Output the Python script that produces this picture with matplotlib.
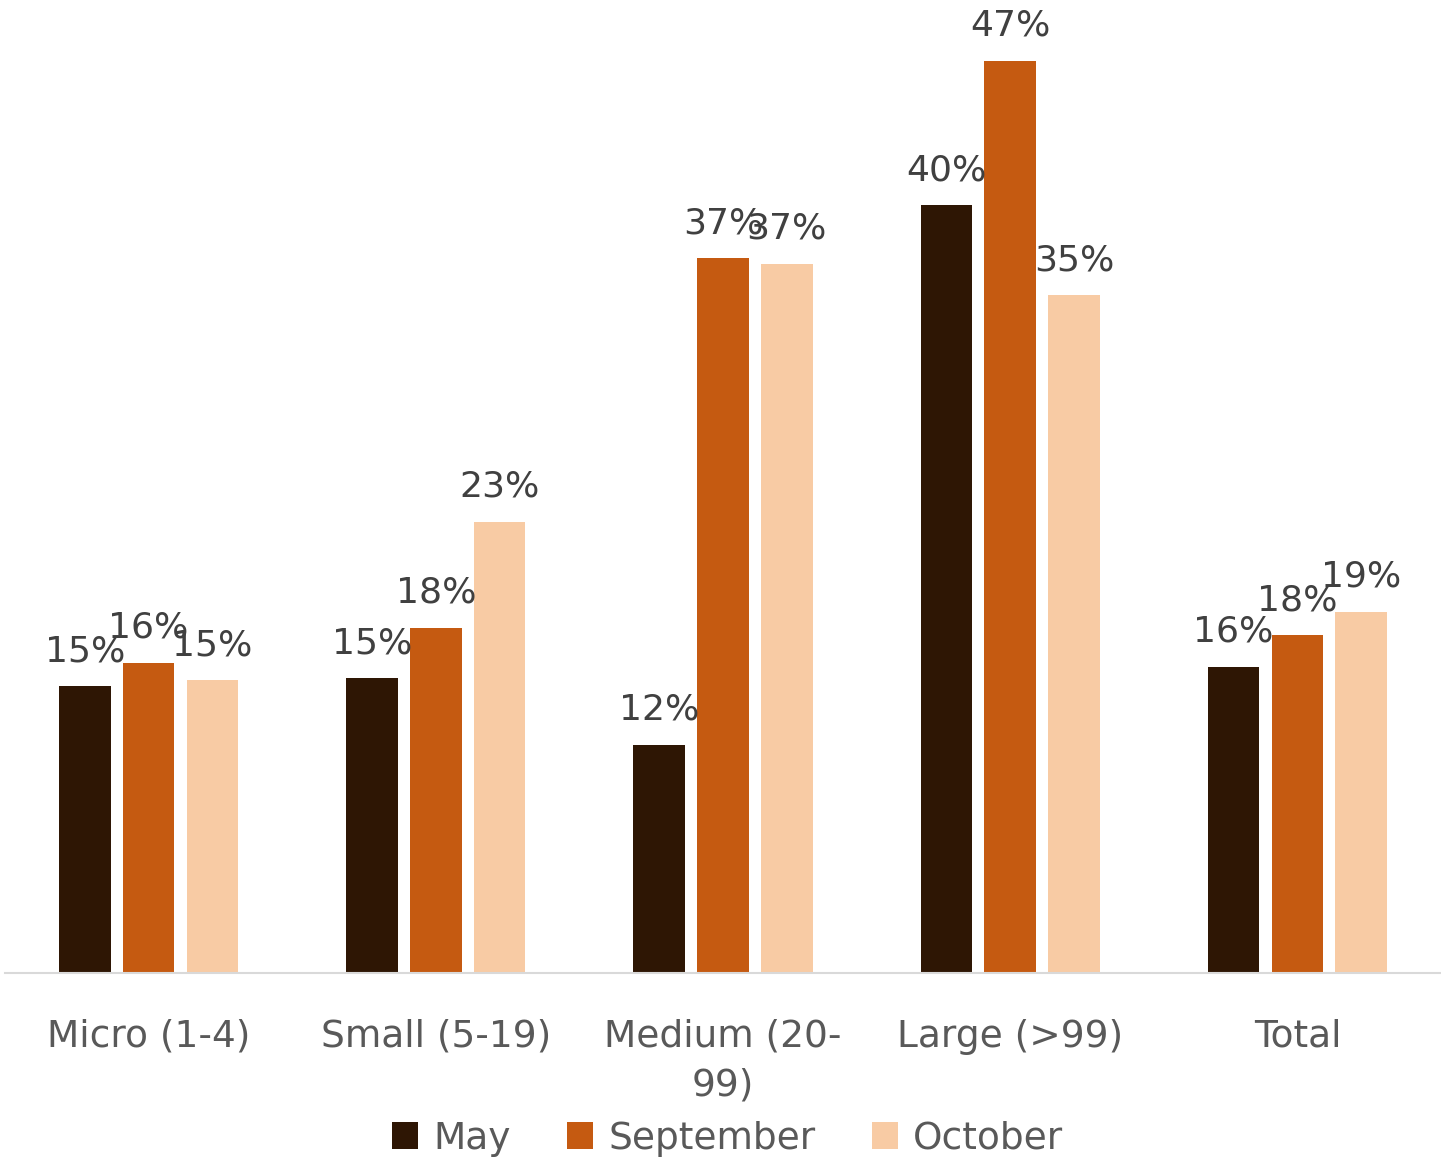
import matplotlib.pyplot as plt
import numpy as np

categories = ['Micro (1-4)', 'Small (5-19)', 'Medium (20-\n99)', 'Large (>99)', 'Total']
series = ['May', 'September', 'October']
may = [15.0, 15.4, 12.0, 39.6, 16.0]
september = [16.2, 18.0, 36.9, 47.0, 17.6]
october = [15.3, 23.4, 36.6, 35.0, 18.8]
colors = ['#2E1604', '#C55A11', '#F8CBA4']

plt.rcParams['font.family'] = ['DejaVu Sans']
text_color = '#595959'

fig = plt.figure(figsize=(14.41, 11.58), dpi=100)
ax = fig.add_axes([5 / 1441, 185 / 1158, 1436 / 1441, 973 / 1158])

x = np.arange(len(categories))
width = 0.18
step = 0.222
for i, (name, vals) in enumerate(zip(series, [may, september, october])):
    pos = x + (i - 1) * step
    ax.bar(pos, vals, width=width, color=colors[i], label=name, zorder=2)
    for px, v in zip(pos, vals):
        ax.annotate(f'{round(v)}%', (px, v), xytext=(0, 13), textcoords='offset points',
                    ha='center', va='bottom', fontsize=26, color='#404040')

ax.set_xlim(-0.5, 4.5)
ax.set_ylim(0.33, 50.1)
ax.set_xticks(x)
ax.set_xticklabels(categories, fontsize=27, color=text_color, linespacing=1.45)
ax.tick_params(axis='x', length=0, pad=33)
ax.set_yticks([])
for s in ['top', 'right', 'left']:
    ax.spines[s].set_visible(False)
ax.spines['bottom'].set_color('#d9d9d9')
ax.spines['bottom'].set_linewidth(1.5)

fig.legend(loc='lower center', bbox_to_anchor=(0.505, -0.028), ncol=3, frameon=False,
           fontsize=27, labelcolor=text_color, handlelength=0.7, handleheight=0.7,
           handletextpad=0.4, columnspacing=1.5)

fig.savefig('out.png', dpi=100)
